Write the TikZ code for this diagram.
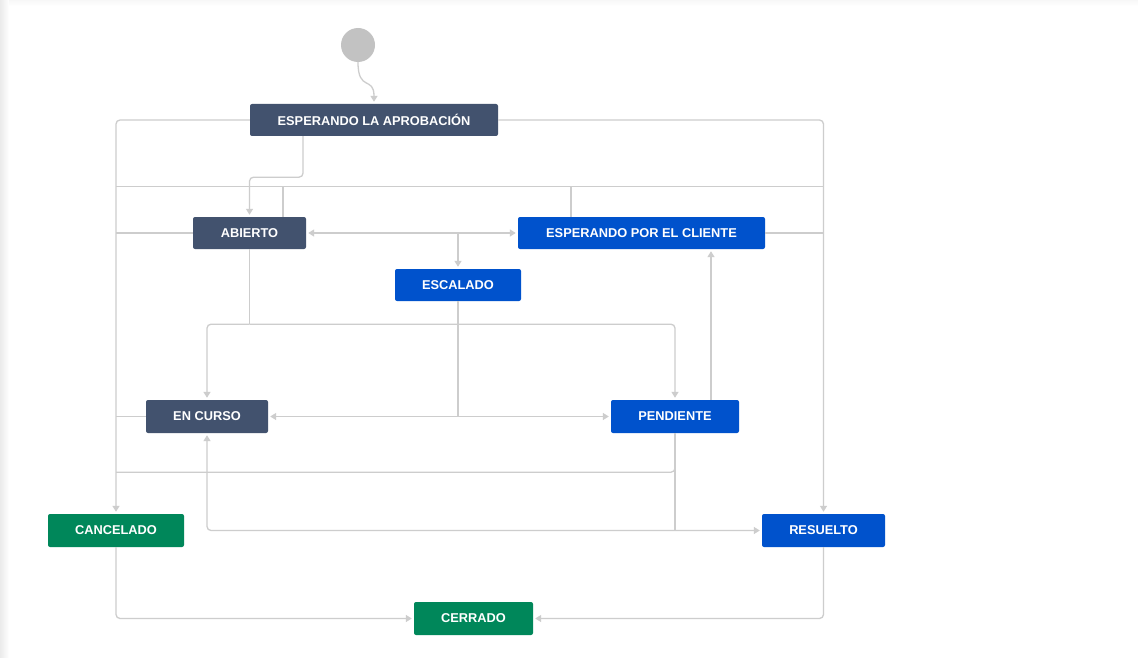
\documentclass[tikz,border=0pt]{standalone}
\usepackage{fontspec}
\setmainfont{Liberation Sans}
\usetikzlibrary{arrows.meta}

\definecolor{jiradark}{HTML}{42526E}
\definecolor{jirablue}{HTML}{0052CC}
\definecolor{jiragreen}{HTML}{00875A}
\definecolor{linegray}{HTML}{CDCDCD}
\definecolor{startgray}{HTML}{C2C2C2}

\begin{document}
\begin{tikzpicture}[x=1pt,y=-1pt,
    state/.style={rectangle,rounded corners=2pt,text=white,inner sep=0pt,
        font=\fontsize{12.8}{14}\selectfont\bfseries,minimum height=32pt},
    todo/.style={state,fill=jiradark},
    doing/.style={state,fill=jirablue},
    done/.style={state,fill=jiragreen},
    edge/.style={draw=linegray,line width=1.3pt,rounded corners=4pt},
    flow/.style={edge,-{Triangle[width=7pt,length=6pt]},shorten >=2pt},
    both/.style={edge,{Triangle[width=7pt,length=6pt]}-{Triangle[width=7pt,length=6pt]},shorten >=2pt,shorten <=2pt}]
    \useasboundingbox (0,0) rectangle (1138,658);
    \fill[white] (0,0) rectangle (1138,658);
    \shade[left color=black!8,right color=white] (0,0) rectangle (9,658);
    \shade[top color=black!3,bottom color=white] (9,0) rectangle (1138,6);

    \node[circle,fill=startgray,minimum size=34pt,inner sep=0pt] (start) at (358,45) {};
    \node[todo,minimum width=248pt] (aprob) at (374,120) {ESPERANDO LA APROBACIÓN};
    \node[todo,minimum width=113pt] (abierto) at (249.5,233) {ABIERTO};
    \node[doing,minimum width=247pt] (cliente) at (641.5,233) {ESPERANDO POR EL CLIENTE};
    \node[doing,minimum width=126pt] (escalado) at (458,285) {ESCALADO};
    \node[todo,minimum width=122pt,minimum height=33pt] (encurso) at (207,416.5) {EN CURSO};
    \node[doing,minimum width=128pt,minimum height=33pt] (pendiente) at (675,416.5) {PENDIENTE};
    \node[done,minimum width=136pt,minimum height=33pt] (cancelado) at (116,530.5) {CANCELADO};
    \node[doing,minimum width=123pt,minimum height=33pt] (resuelto) at (823.5,530.5) {RESUELTO};
    \node[done,minimum width=119pt,minimum height=33pt] (cerrado) at (473.5,618.5) {CERRADO};

    \coordinate (arriba) at ([xshift=33.5pt,yshift=30pt]abierto.north);
    \coordinate (cruce) at ([yshift=-75pt]abierto.south);
    \coordinate (bajo) at ([yshift=-39pt]pendiente.south);

    % inicio
    \draw[flow] (start.south) .. controls +(0,30) and +(0,-28) .. (aprob.north);

    % carriles exteriores
    \draw[flow] (aprob.west) -| (cancelado.north);
    \draw[flow] (aprob.east) -| (resuelto.north);
    \draw[flow] ([xshift=-71pt]aprob.south) -- ++(0,41) -| (abierto.north);
    \draw[edge] ([xshift=33.5pt]abierto.north) -- (arriba);
    \draw[edge] ([xshift=-70.5pt]cliente.north) -- ([xshift=-70.5pt]cliente.north |- arriba);
    \draw[edge] (arriba -| cancelado.north) -- (arriba -| resuelto.north);
    \draw[edge] (abierto.west) -- (abierto.west -| cancelado.north);
    \draw[edge] (cliente.east) -- (cliente.east -| resuelto.north);

    % centro
    \draw[both] (abierto.east) -- (cliente.west);
    \draw[flow] (abierto.east -| escalado.north) -- (escalado.north);
    \draw[edge] (abierto.south) -- (cruce);
    \draw[flow] (cruce) -| (encurso.north);
    \draw[flow] (cruce) -| (pendiente.north);
    \draw[both] (encurso.east) -- (pendiente.west);
    \draw[edge] (escalado.south) -- (escalado.south |- encurso.east);
    \draw[flow] ([xshift=36pt]pendiente.north) -- ([xshift=36pt]pendiente.north |- cliente.south);

    % abajo
    \draw[edge] (encurso.west) -- (encurso.west -| cancelado.north);
    \draw[edge] (pendiente.south) -- (bajo) -- (bajo -| cancelado.north);
    \draw[edge] (pendiente.south) -- (pendiente.south |- resuelto.west);
    \draw[both] (encurso.south) |- (resuelto.west);
    \draw[flow] (cancelado.south) |- (cerrado.west);
    \draw[flow] (resuelto.south) |- (cerrado.east);
\end{tikzpicture}
\end{document}
